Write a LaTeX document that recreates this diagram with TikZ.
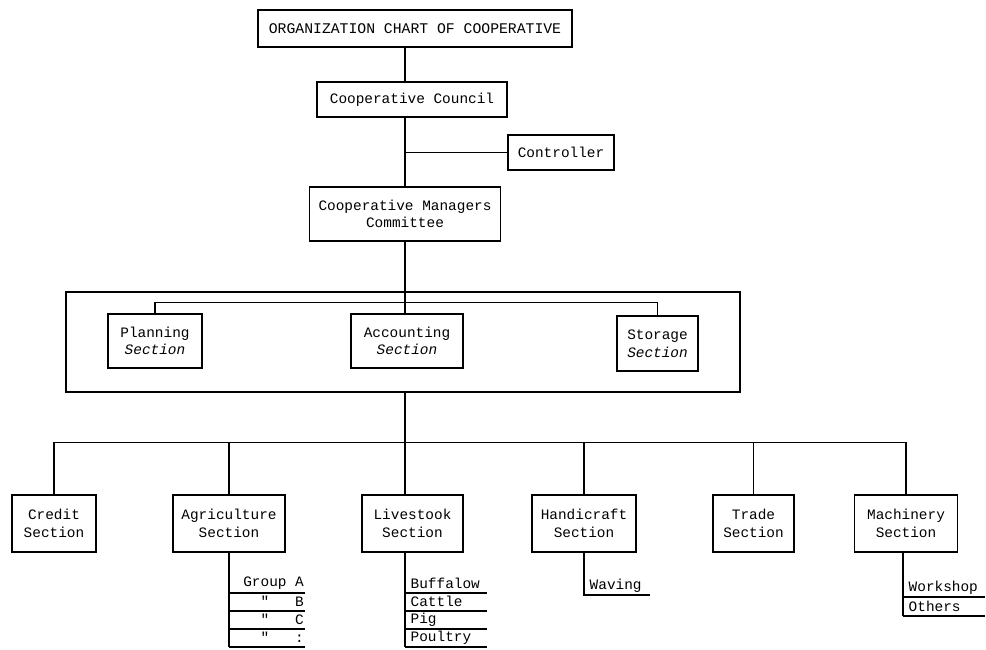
\documentclass[tikz,border=0pt]{standalone}
\usepackage{fontspec}
\setmainfont{Liberation Mono}
\setmonofont{Liberation Mono}
\usepackage{tikz}
\tikzstyle{r} = [rectangle, draw=black, line width=0.8pt, align=center, inner sep=2pt, font=\fontsize{8.2}{10}\selectfont]
\tikzstyle{sub} = [anchor=south west, inner xsep=0.1cm, inner ysep=0pt, minimum height=0.36cm, align=left, font=\fontsize{8.2}{10}\selectfont]

\begin{document}
\begin{tikzpicture}[x=0.02cm, y=-0.02cm, line width=0.8pt]
		\useasboundingbox (0,0) rectangle (986,649);
		% top of the chart
		\node[r, minimum width=6.28cm, minimum height=0.74cm, font=\fontsize{8.4}{10}\selectfont](1) at (415,28.5){ORGANIZATION CHART OF COOPERATIVE};
		\node[r, minimum width=3.8cm, minimum height=0.7cm](2) at (412,99.5){Cooperative Council};
		\node[r, minimum width=2.12cm, minimum height=0.7cm](3) at (561,152.5){Controller};
		\node[r, minimum width=3.82cm, minimum height=1.08cm](4) at (405,214){Cooperative Managers\\Committee};
		% staff sections
		\node[r, minimum width=13.48cm, minimum height=2cm](box) at (403,342){};
		\node[r, minimum width=1.88cm, minimum height=1.08cm](5) at (155,341){Planning\\\textit{Section}};
		\node[r, minimum width=2.24cm, minimum height=1.08cm](6) at (407,341){Accounting\\\textit{Section}};
		\node[r, minimum width=1.62cm, minimum height=1.1cm](7) at (657.5,343.5){Storage\\\textit{Section}};
		% line sections
		\node[r, minimum width=1.68cm, minimum height=1.14cm](8) at (54,523.5){Credit\\Section};
		\node[r, minimum width=2.24cm, minimum height=1.14cm](9) at (229,523.5){Agriculture\\Section};
		\node[r, minimum width=2.02cm, minimum height=1.14cm](10) at (412.5,523.5){Livestook\\Section};
		\node[r, minimum width=2.08cm, minimum height=1.14cm](11) at (584,523.5){Handicraft\\Section};
		\node[r, minimum width=1.62cm, minimum height=1.14cm](12) at (753.5,523.5){Trade\\Section};
		\node[r, minimum width=2.06cm, minimum height=1.14cm](13) at (906,523.5){Machinery\\Section};
		% sub units
		\node[sub, text width=1.3cm](a1) at (229,593){\hphantom{x}Group\hphantom{x}A};
		\node[sub, text width=1.3cm](a2) at (229,611){\hphantom{xxx}\texttt{"}\hphantom{xxx}B};
		\node[sub, text width=1.3cm](a3) at (229,629){\hphantom{xxx}\texttt{"}\hphantom{xxx}C};
		\node[sub, text width=1.3cm](a4) at (229,647){\hphantom{xxx}\texttt{"}\hphantom{xxx}:};
		\node[sub, text width=1.42cm](b1) at (405,593){Buffalow};
		\node[sub, text width=1.42cm](b2) at (405,611){Cattle};
		\node[sub, text width=1.42cm](b3) at (405,629){Pig};
		\node[sub, text width=1.42cm](b4) at (405,647){Poultry};
		\node[sub, text width=1.1cm](c1) at (584,595){Waving};
		\node[sub, text width=1.42cm](d1) at (903,597){Workshop};
		\node[sub, text width=1.42cm](d2) at (903,616){Others};
		% connectors
		\draw (1.south -| 4.south)--(2.north -| 4.south);
		\draw (2.south -| 4.south)--(4.north);
		\draw (3.west)--(3.west -| 4.north);
		\draw (4.south)--(6.north -| 4.south);
		\draw (5.north)--++(0,-11)-|(7.north);
		\draw (box.south -| 4.south)--(10.north -| 4.south);
		\draw (8.north)--++(0,-52)-|(13.north);
		\foreach \n in {9,11,12} \draw (\n.north)--++(0,-52);
		\draw (9.south)--(9.south |- a4.south);
		\foreach \i in {1,...,4} \draw (a\i.south west)--(a\i.south east);
		\draw (10.south -| b1.west)--(b4.south west);
		\foreach \i in {1,...,4} \draw (b\i.south west)--(b\i.south east);
		\draw (11.south)|-(c1.south east);
		\draw (13.south -| d1.west)--(d2.south west);
		\foreach \i in {1,2} \draw (d\i.south west)--(d\i.south east);
\end{tikzpicture}
\end{document}
